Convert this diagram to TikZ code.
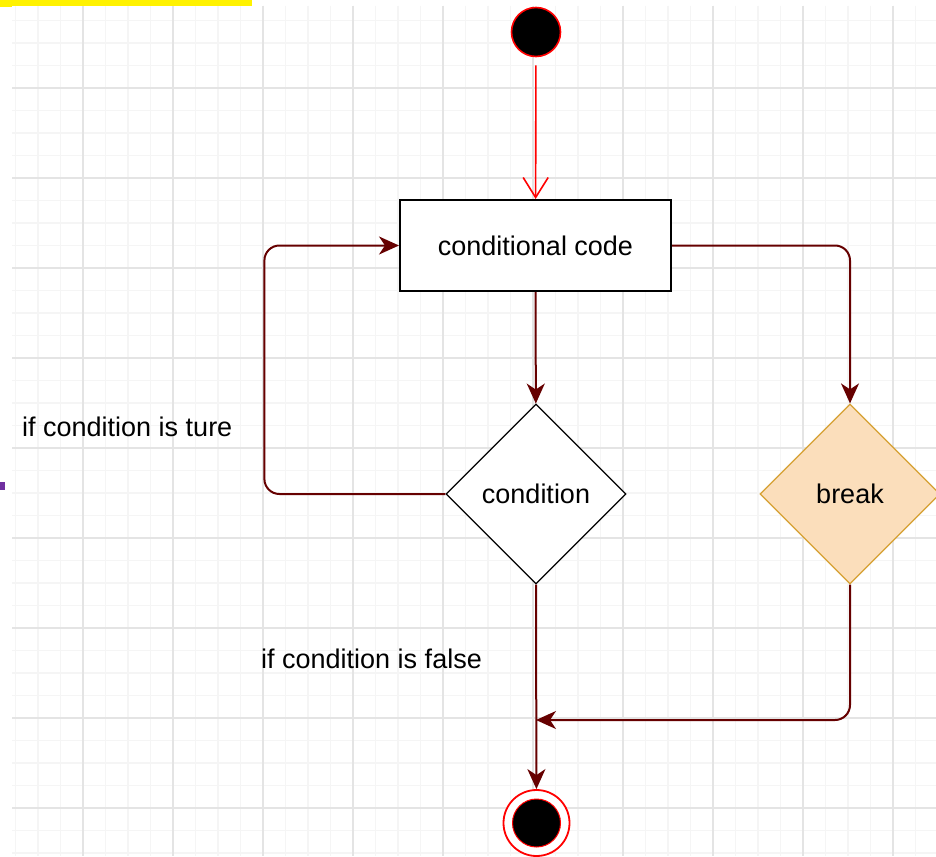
\documentclass[tikz,border=0pt]{standalone}
\usepackage{fontspec}
\setmainfont{Liberation Sans}
\usetikzlibrary{arrows.meta,shapes.geometric}

\definecolor{flowred}{RGB}{102,0,0}
\definecolor{peach}{RGB}{251,222,187}
\definecolor{peachline}{RGB}{214,160,50}
\definecolor{gridminor}{RGB}{245,245,245}
\definecolor{gridmajor}{RGB}{228,228,228}
\definecolor{markpurple}{RGB}{112,48,160}

\tikzset{
  every node/.style={font=\fontsize{27}{32}\selectfont, text=black},
  minorline/.style={draw=gridminor, line width=1.2pt},
  majorline/.style={draw=gridmajor, line width=1.6pt},
  flow/.style={draw=flowred, line width=2pt, -{Stealth[length=20pt,width=18pt,inset=6pt]}},
  startflow/.style={draw=red, line width=1.6pt, -{Straight Barb[length=20pt,width=25pt]}},
  initial/.style={circle, fill=black, draw=red, line width=1.6pt, minimum size=49pt, inner sep=0pt},
  finalring/.style={circle, fill=white, draw=red, line width=1.8pt, minimum size=66pt, inner sep=0pt},
  finaldot/.style={circle, fill=black, draw=red, line width=1pt, minimum size=48pt, inner sep=0pt},
  process/.style={rectangle, draw=black, fill=white, line width=2pt, minimum width=271pt, minimum height=91pt, inner sep=0pt},
  decision/.style={diamond, shape aspect=1, draw=black, fill=white, line width=1.2pt, minimum width=180pt, minimum height=180pt, inner sep=0pt},
  breakbox/.style={decision, draw=peachline, fill=peach},
  note/.style={anchor=base west, inner sep=0pt}
}

\begin{document}
\begin{tikzpicture}[x=1pt, y=-1pt]
  \useasboundingbox (0,0) rectangle (936,856);
  \fill[white] (0,0) rectangle (936,856);

  % background grid
  \begin{scope}
    \clip (12,6) rectangle (936,856);
    \foreach \n in {-4,...,38} {
      \draw[minorline] ({83+22.5*\n},6) -- ({83+22.5*\n},856);
      \draw[minorline] (12,{88+22.5*\n}) -- (936,{88+22.5*\n});
    }
    \foreach \n in {-1,...,10} {
      \draw[majorline] ({83+90*\n},6) -- ({83+90*\n},856);
      \draw[majorline] (12,{88+90*\n}) -- (936,{88+90*\n});
    }
  \end{scope}

  % highlight strip and side mark
  \fill[yellow] (0,0) rectangle (252,6);
  \fill[yellow] (0,0) rectangle (12,7);
  \fill[markpurple] (0,482) rectangle (4.5,490);

  % nodes
  \node[initial] (start) at (536,32) {};
  \node[process] (code) at (535.5,245.5) {conditional code};
  \node[decision] (cond) at (536,494) {condition};
  \node[breakbox] (brk) at (850,494) {break};
  \node[finalring] (stop) at (536.5,823) {};
  \node[finaldot] (stopdot) at (536.5,823) {};
  \coordinate (merge) at (536,720);

  % connectors
  \draw[startflow, shorten <=8pt] (start) -- (code);
  \draw[flow] (code) -- (cond);
  \draw[flow, rounded corners=15pt] (cond.west) -- ++(-181,0) |- (code.west);
  \draw[flow, rounded corners=15pt] (code.east) -| (brk.north);
  \draw[flow, rounded corners=15pt] (brk.south) |- (merge);
  \draw[flow] (cond.south) -- (stop);

  % branch labels
  \node[note] (truelabel) at (22,436) {if condition is ture};
  \node[note] (falselabel) at (261,668) {if condition is false};
\end{tikzpicture}
\end{document}
